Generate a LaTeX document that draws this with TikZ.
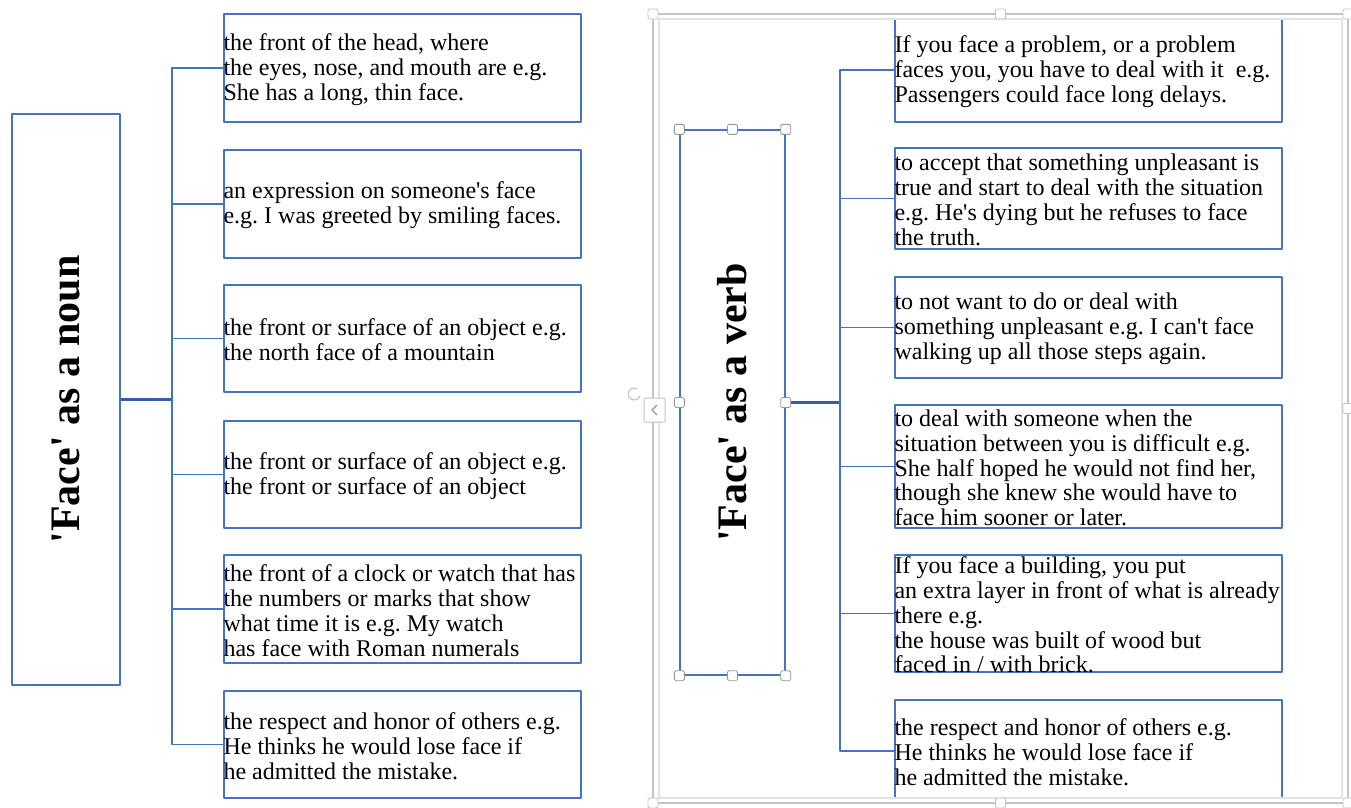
\documentclass[tikz,border=0pt]{standalone}
\usepackage{fontspec}
\setmainfont[Ligatures=TeXOff]{Liberation Serif}
\usetikzlibrary{calc}
\frenchspacing
\definecolor{wordblue}{RGB}{68,114,196}
\definecolor{trunkblue}{RGB}{52,92,170}
\definecolor{framegray}{RGB}{196,196,196}
\definecolor{bandgray}{RGB}{226,226,226}
\definecolor{handlegray}{RGB}{150,150,150}
\tikzset{
  every node/.style={font=\fontsize{24}{24.8}\selectfont},
  defbox/.style={draw=wordblue, line width=1.3pt, inner sep=0pt},
  nounbox/.style={defbox, minimum width=357pt},
  verbbox/.style={defbox, minimum width=387pt},
  deftext/.style={anchor=west, inner sep=0pt, align=left, yshift=-1.5pt},
  titlebox/.style={draw=wordblue, line width=1.3pt, inner sep=0pt},
  titletext/.style={inner sep=0pt, font=\fontsize{42}{42}\selectfont\bfseries},
  link/.style={draw=wordblue, line width=1.8pt},
  trunk/.style={draw=trunkblue, line width=2.4pt},
  handle/.style={draw=handlegray, fill=white, rounded corners=1.5pt,
    line width=0.8pt, minimum size=10pt, inner sep=0pt}
}

\begin{document}
\begin{tikzpicture}[x=1pt,y=-1pt,line join=round]
  \useasboundingbox (0,0) rectangle (1351,807);

  % noun side
  \node[titlebox, minimum width=108pt, minimum height=571pt] (noun) at (66,399.5) {};
  \node[titletext, rotate=90] (nountext) at (noun.center) {'Face' as a noun};
  \coordinate (nounbus) at (172,399.5);

  \node[nounbox, minimum height=108pt] (n1) at (402.5,68) {};
  \node[nounbox, minimum height=108pt] (n2) at (402.5,204) {};
  \node[nounbox, minimum height=107pt] (n3) at (402.5,338.5) {};
  \node[nounbox, minimum height=107pt] (n4) at (402.5,474.5) {};
  \node[nounbox, minimum height=108pt] (n5) at (402.5,609) {};
  \node[nounbox, minimum height=107pt] (n6) at (402.5,744.5) {};

  \node[deftext] (n1t) at (n1.west)
    {the front of the head, where\\the eyes, nose, and mouth are e.g.\\She has a long, thin face.};
  \node[deftext] (n2t) at (n2.west)
    {an expression on someone's face\\e.g. I was greeted by smiling faces.};
  \node[deftext] (n3t) at (n3.west)
    {the front or surface of an object e.g.\\the north face of a mountain};
  \node[deftext] (n4t) at (n4.west)
    {the front or surface of an object e.g.\\the front or surface of an object};
  \node[deftext] (n5t) at (n5.west)
    {the front of a clock or watch that has\\the numbers or marks that show\\what time it is e.g. My watch\\has face with Roman numerals};
  \node[deftext] (n6t) at (n6.west)
    {the respect and honor of others e.g.\\He thinks he would lose face if\\he admitted the mistake.};

  \draw[trunk] (noun.east) -- (nounbus);
  \foreach \i in {1,...,6}
    \draw[link] (nounbus) |- (n\i.west);

  % verb side
  \node[titlebox, minimum width=105pt, minimum height=545pt] (verb) at (732.5,402.5) {};
  \node[titletext, rotate=90] (verbtext) at (verb.center) {'Face' as a verb};
  \coordinate (verbbus) at (840,402.5);

  \node[verbbox, minimum height=104pt] (v1) at (1088.5,70) {};
  \node[verbbox, minimum height=101pt] (v2) at (1088.5,198.5) {};
  \node[verbbox, minimum height=101pt] (v3) at (1088.5,327.5) {};
  \node[verbbox, minimum height=123pt] (v4) at (1088.5,466.5) {};
  \node[verbbox, minimum height=117pt] (v5) at (1088.5,613.5) {};
  \node[verbbox, minimum height=102pt] (v6) at (1088.5,751) {};

  \node[deftext] (v1t) at (v1.west)
    {If you face a problem, or a problem\\faces you, you have to deal with it \ e.g.\\Passengers could face long delays.};
  \node[deftext] (v2t) at (v2.west)
    {to accept that something unpleasant is\\true and start to deal with the situation\\e.g. He's dying but he refuses to face\\the truth.};
  \node[deftext] (v3t) at (v3.west)
    {to not want to do or deal with\\something unpleasant e.g. I can't face\\walking up all those steps again.};
  \node[deftext] (v4t) at (v4.west)
    {to deal with someone when the\\situation between you is difficult e.g.\\She half hoped he would not find her,\\though she knew she would have to\\face him sooner or later.};
  \node[deftext] (v5t) at (v5.west)
    {If you face a building, you put\\an extra layer in front of what is already\\there e.g.\\the house was built of wood but\\faced in / with brick.};
  \node[deftext] (v6t) at (v6.west)
    {the respect and honor of others e.g.\\He thinks he would lose face if\\he admitted the mistake.};

  \draw[trunk] (verb.east) -- (verbbus);
  \foreach \i in {1,...,6}
    \draw[link] (verbbus) |- (v\i.west);

  % selection frame round the verb side
  \fill[white, even odd rule] (653,14) rectangle (1348,803) (659,19) rectangle (1342,798);
  \draw[framegray, line width=1.4pt] (653,14) rectangle (1348,803);
  \draw[bandgray, line width=1.2pt] (659,19) rectangle (1342,798);
  \foreach \p [count=\i] in {(653,14),(1000.5,14),(1348,14),(1348,408.5),
      (653,803),(1000.5,803),(1348,803)}
    \node[handle, draw=framegray] (fh\i) at \p {};

  % layout button and rotate mark
  \draw[framegray, line width=1.2pt] (640,396) arc[start angle=20, end angle=300, radius=6];
  \draw[framegray, fill=white, line width=1pt, rounded corners=1pt] (644,398) rectangle (665,422);
  \draw[handlegray, line width=1.2pt] (657,405) -- (652,410) -- (657,415);

  % handles of the selected shape
  \foreach \a [count=\i] in {north west,north,north east,west,east,south west,south,south east}
    \node[handle] (vh\i) at (verb.\a) {};
\end{tikzpicture}
\end{document}
